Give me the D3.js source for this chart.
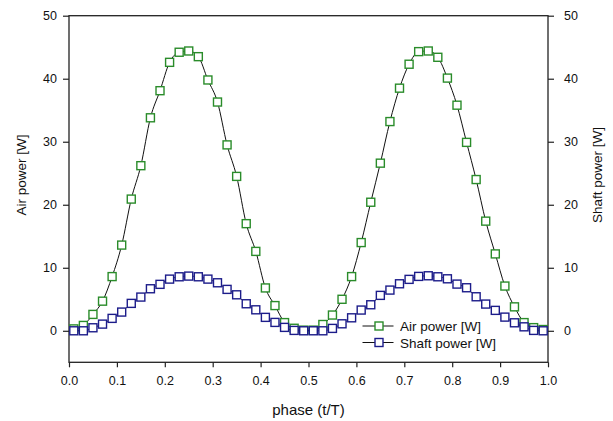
<!DOCTYPE html>
<html>
<head>
<meta charset="utf-8">
<script src="https://cdn.jsdelivr.net/npm/d3@7"></script>
<style>
  html, body { margin: 0; padding: 0; background: #fff; }
  svg { display: block; font-family: "Liberation Sans", Arial, sans-serif; }
</style>
</head>
<body>
<svg id="chart" width="613" height="421"></svg>
<script>
// Phase positions of the samples (t/T)
const phase = [
  0.01, 0.03, 0.05, 0.07, 0.09, 0.11, 0.13, 0.15, 0.17, 0.19,
  0.21, 0.23, 0.25, 0.27, 0.29, 0.31, 0.33, 0.35, 0.37, 0.39,
  0.41, 0.43, 0.45, 0.47, 0.49, 0.51, 0.53, 0.55, 0.57, 0.59,
  0.61, 0.63, 0.65, 0.67, 0.69, 0.71, 0.73, 0.75, 0.77, 0.79,
  0.81, 0.83, 0.85, 0.87, 0.89, 0.91, 0.93, 0.95, 0.97, 0.99
];

// Air power [W]
const airPower = [
  0.3, 0.85, 2.6, 4.7, 8.6, 13.6, 20.9, 26.2, 33.8, 38.1,
  42.6, 44.2, 44.4, 43.5, 39.8, 36.3, 29.5, 24.5, 17.0, 12.6,
  6.8, 4.0, 1.3, 0.4, 0.1, 0.1, 1.0, 2.5, 5.0, 8.6,
  14.0, 20.4, 26.6, 33.2, 38.5, 42.3, 44.3, 44.4, 43.4, 40.1,
  35.8, 29.9, 24.0, 17.4, 12.2, 7.1, 3.8, 1.3, 0.5, 0.2
];

// Shaft power [W]
const shaftPower = [
  0.0, 0.0, 0.48, 1.06, 1.97, 2.97, 4.35, 5.35, 6.67, 7.37,
  8.2, 8.57, 8.68, 8.57, 8.2, 7.62, 6.57, 5.71, 4.29, 3.33,
  2.13, 1.33, 0.54, 0.06, 0.0, 0.0, 0.0, 0.38, 1.11, 2.06,
  3.29, 4.13, 5.62, 6.46, 7.46, 8.16, 8.63, 8.73, 8.57, 8.25,
  7.41, 6.83, 5.4, 4.24, 3.24, 2.17, 1.27, 0.63, 0.06, 0.0
];

const xTicks = [0.0, 0.1, 0.2, 0.3, 0.4, 0.5, 0.6, 0.7, 0.8, 0.9, 1.0];
const yTicks = [0, 10, 20, 30, 40, 50];

const seriesNames = ["Air power [W]", "Shaft power [W]"];
const seriesColors = ["#2a8c2a", "#1c1c8a"];

const svg = d3.select("#chart");
const plot = { left: 69, right: 548, top: 15.7, bottom: 362.3 };

const x = d3.scaleLinear().domain([0, 1]).range([plot.left, plot.right]);
const y = d3.scaleLinear().domain([-5, 50]).range([plot.bottom, plot.top]);

const axisColor = "#222";
const tickFont = "12.5px";

function styleAxis(g) {
  g.select(".domain").remove();
  g.selectAll(".tick line").attr("stroke", axisColor).attr("stroke-width", 1.2);
  g.selectAll(".tick text").attr("fill", "#111").style("font-size", tickFont);
}

// Bottom axis
svg.append("g")
  .attr("transform", `translate(0,${plot.bottom})`)
  .call(d3.axisBottom(x).tickValues(xTicks).tickFormat(d3.format(".1f")).tickSize(5).tickPadding(9))
  .call(styleAxis);

// Left axis
svg.append("g")
  .attr("transform", `translate(${plot.left},0)`)
  .call(d3.axisLeft(y).tickValues(yTicks).tickFormat(d3.format("d")).tickSize(6).tickPadding(6))
  .call(styleAxis);

// Right axis (same scale)
svg.append("g")
  .attr("transform", `translate(${plot.right},0)`)
  .call(d3.axisRight(y).tickValues(yTicks).tickFormat(d3.format("d")).tickSize(6).tickPadding(10))
  .call(styleAxis);

// Frame
svg.append("rect")
  .attr("x", plot.left).attr("y", plot.top)
  .attr("width", plot.right - plot.left).attr("height", plot.bottom - plot.top)
  .attr("fill", "none").attr("stroke", axisColor).attr("stroke-width", 1.3);

// Axis titles
svg.append("text")
  .attr("x", (plot.left + plot.right) / 2).attr("y", 415)
  .attr("text-anchor", "middle").style("font-size", "15px").attr("fill", "#111")
  .text("phase (t/T)");

svg.append("text")
  .attr("transform", "translate(26,175) rotate(-90)")
  .attr("text-anchor", "middle").style("font-size", "13.5px").attr("fill", "#111")
  .text("Air power [W]");

svg.append("text")
  .attr("transform", "translate(602,175) rotate(-90)")
  .attr("text-anchor", "middle").style("font-size", "13.5px").attr("fill", "#111")
  .text("Shaft power [W]");

// Series
const allSeries = [airPower, shaftPower];
const line = d3.line()
  .x((d, i) => x(phase[i]))
  .y(d => y(d))
  .curve(d3.curveMonotoneX);

const msize = 8;
allSeries.forEach((vals, s) => {
  const g = svg.append("g");
  g.append("path")
    .attr("d", line(vals))
    .attr("fill", "none").attr("stroke", "#111").attr("stroke-width", 1);
  g.selectAll("rect")
    .data(vals)
    .join("rect")
    .attr("x", (d, i) => x(phase[i]) - msize / 2)
    .attr("y", d => y(d) - msize / 2)
    .attr("width", msize).attr("height", msize)
    .attr("fill", "#fff")
    .attr("stroke", seriesColors[s]).attr("stroke-width", 1.4);
});

// Legend
const legend = svg.append("g");
const legendRows = [326, 342.5];
seriesNames.forEach((name, s) => {
  const ly = legendRows[s];
  legend.append("line")
    .attr("x1", 362.5).attr("x2", 393.5).attr("y1", ly).attr("y2", ly)
    .attr("stroke", "#111").attr("stroke-width", 1);
  legend.append("rect")
    .attr("x", 379 - msize / 2).attr("y", ly - msize / 2)
    .attr("width", msize).attr("height", msize)
    .attr("fill", "#fff").attr("stroke", seriesColors[s]).attr("stroke-width", 1.4);
  legend.append("text")
    .attr("x", 400).attr("y", ly + 5)
    .style("font-size", "13.5px").attr("fill", "#111")
    .text(name);
});
</script>
</body>
</html>
